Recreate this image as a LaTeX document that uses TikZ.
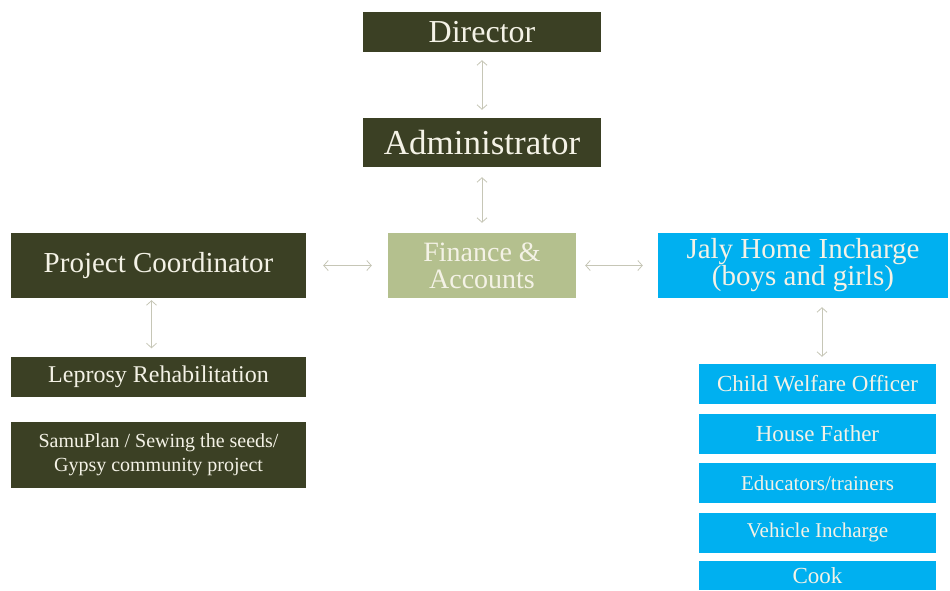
\documentclass[tikz,border=0pt]{standalone}
\usepackage{fontspec}
\setmainfont{Liberation Serif}
\usetikzlibrary{arrows.meta}
\definecolor{darkolive}{HTML}{3B4024}
\definecolor{paleolive}{HTML}{B4C08E}
\definecolor{skyblue}{HTML}{00B0F0}
\definecolor{boxtext}{HTML}{F4F2E6}
\definecolor{linkgrey}{HTML}{C6C6B6}
\newcommand{\fs}[2]{\fontsize{#1}{#2}\selectfont}
\begin{document}
\begin{tikzpicture}[x=1pt,y=-1pt,
    box/.style={text=boxtext,align=center,inner sep=0pt},
    dark/.style={box,fill=darkolive},
    pale/.style={box,fill=paleolive},
    blue/.style={box,fill=skyblue,minimum width=237pt,minimum height=40pt},
    link/.style={draw=linkgrey,line width=0.8pt,
      {Straight Barb[length=4.5pt,width=10pt]}-{Straight Barb[length=4.5pt,width=10pt]}}]
  \useasboundingbox (0,0) rectangle (950,590);
  % top of the chart
  \node[dark,minimum width=238pt,minimum height=40pt,font=\fs{32}{34}] (dir) at (482,32) {Director};
  \node[dark,minimum width=238pt,minimum height=49pt,font=\fs{35}{37}] (adm) at (482,142.5) {Administrator};
  % middle row
  \node[dark,minimum width=295pt,minimum height=65pt,font=\fs{29}{30}] (pc) at (158.5,265.5) {Project Coordinator};
  \node[pale,minimum width=188pt,minimum height=65pt,font=\fs{28}{27}] (fin) at (482,265.5) {Finance \&\\Accounts};
  \node[box,fill=skyblue,minimum width=290pt,minimum height=65pt,font=\fs{29}{27}] (jaly) at (803,265.5) {Jaly Home Incharge\\(boys and girls)};
  % left column
  \node[dark,minimum width=295pt,minimum height=40pt,font=\fs{24}{25}] (lep) at (158.5,376.5) {Leprosy Rehabilitation};
  \node[dark,minimum width=295pt,minimum height=66pt,font=\fs{20}{24}] (samu) at (158.5,454.5) {SamuPlan / Sewing the seeds/\\Gypsy community project};
  % right column
  \node[blue,font=\fs{23}{24}] (child) at (817.5,384) {Child Welfare Officer};
  \node[blue,font=\fs{23}{24}] (house) at (817.5,433.5) {House Father};
  \node[blue,font=\fs{21}{22}] (edu) at (817.5,483) {Educators/trainers};
  \node[blue,font=\fs{21}{22}] (veh) at (817.5,532.5) {Vehicle Incharge};
  \node[blue,minimum height=29pt,font=\fs{23}{24}] (cook) at (817.5,575.5) {Cook};
  % links
  \draw[link,shorten <=8pt,shorten >=8pt] (dir) -- (adm);
  \draw[link,shorten <=10pt,shorten >=10pt] (adm) -- (fin);
  \draw[link,shorten <=17pt,shorten >=16pt] (pc) -- (fin);
  \draw[link,shorten <=9pt,shorten >=15pt] (fin) -- (jaly);
  \draw[link,shorten <=2pt,shorten >=8pt] ([xshift=-7pt]pc.south) -- ([xshift=-7pt]lep.north);
  \draw[link,shorten <=9pt,shorten >=7pt] ([xshift=19pt]jaly.south) -- ([xshift=4.5pt]child.north);
\end{tikzpicture}
\end{document}
